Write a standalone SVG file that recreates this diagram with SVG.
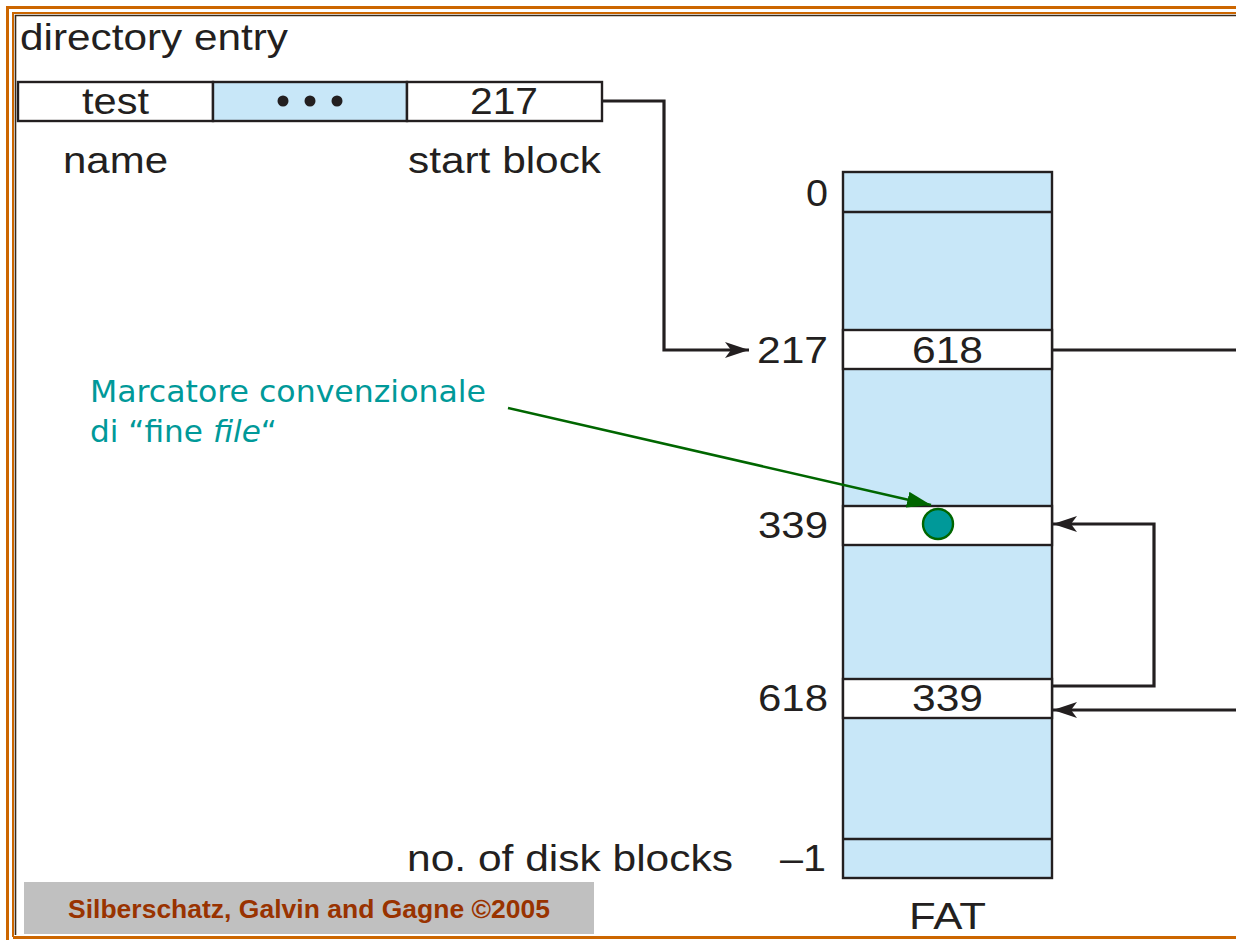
<svg xmlns="http://www.w3.org/2000/svg" width="1236" height="940" viewBox="0 0 1236 940">
  <defs>
    <style>
      .lbl { font-family: "Liberation Sans", Arial, sans-serif; font-size: 36px; fill: #231f20; }
      .box { stroke: #231f20; stroke-width: 2.4; }
      .blue { fill: #c8e7f8; }
      .white { fill: #ffffff; }
      .wire { fill: none; stroke: #231f20; stroke-width: 3.2; }
      .note { font-family: "DejaVu Sans", Verdana, sans-serif; font-size: 30px; fill: #009999; }
    </style>
    <marker id="arrowBlack" viewBox="0 0 24 16" refX="24" refY="8" markerWidth="24" markerHeight="16" markerUnits="userSpaceOnUse" orient="auto">
      <path d="M0,0 L24,8 L0,16 L6,8 Z" fill="#231f20"/>
    </marker>
    <marker id="arrowGreen" viewBox="0 0 24 16" refX="24" refY="8" markerWidth="24" markerHeight="16" markerUnits="userSpaceOnUse" orient="auto">
      <path d="M0,0 L24,8 L0,16 Z" fill="#006600"/>
    </marker>
  </defs>

  <rect width="1236" height="940" fill="#ffffff"/>

  <!-- slide frame -->
  <g id="frame">
    <path d="M7.5,940 V7.5 H1236" fill="none" stroke="#cc6600" stroke-width="3"/>
    <path d="M13,937 V13 H1236" fill="none" stroke="#cc6600" stroke-width="2"/>
    <path d="M13,937.5 H1236" fill="none" stroke="#cc6600" stroke-width="3"/>
    <path d="M15.5,935 V15.5 H1236" fill="none" stroke="#3b2a1a" stroke-width="1.6"/>
  </g>

  <!-- directory entry record -->
  <g id="directory-entry">
    <text class="lbl" x="20" y="50" textLength="268" lengthAdjust="spacingAndGlyphs">directory entry</text>
    <rect class="box white" x="18" y="82" width="195" height="39"/>
    <rect class="box blue" x="213" y="82" width="194" height="39"/>
    <rect class="box white" x="407" y="82" width="195" height="39"/>
    <text class="lbl" x="82" y="114" textLength="67" lengthAdjust="spacingAndGlyphs">test</text>
    <circle cx="283" cy="101" r="5.5" fill="#231f20"/>
    <circle cx="310" cy="101" r="5.5" fill="#231f20"/>
    <circle cx="337" cy="101" r="5.5" fill="#231f20"/>
    <text class="lbl" x="470" y="114" textLength="68" lengthAdjust="spacingAndGlyphs">217</text>
    <text class="lbl" x="63" y="173" textLength="105" lengthAdjust="spacingAndGlyphs">name</text>
    <text class="lbl" x="408" y="173" textLength="193" lengthAdjust="spacingAndGlyphs">start block</text>
  </g>

  <!-- file allocation table -->
  <g id="fat">
    <rect class="box blue" x="843" y="172" width="209" height="706"/>
    <line class="box" x1="843" y1="212" x2="1052" y2="212"/>
    <rect class="box white" x="843" y="330" width="209" height="39"/>
    <rect class="box white" x="843" y="506" width="209" height="39"/>
    <rect class="box white" x="843" y="679" width="209" height="39"/>
    <line class="box" x1="843" y1="839" x2="1052" y2="839"/>
    <text class="lbl" x="912" y="363" textLength="71" lengthAdjust="spacingAndGlyphs">618</text>
    <text class="lbl" x="912" y="711" textLength="71" lengthAdjust="spacingAndGlyphs">339</text>
    <text class="lbl" x="806" y="206" textLength="22" lengthAdjust="spacingAndGlyphs">0</text>
    <text class="lbl" x="757" y="363" textLength="71" lengthAdjust="spacingAndGlyphs">217</text>
    <text class="lbl" x="758" y="538" textLength="70" lengthAdjust="spacingAndGlyphs">339</text>
    <text class="lbl" x="758" y="711" textLength="70" lengthAdjust="spacingAndGlyphs">618</text>
    <text class="lbl" x="407" y="871" textLength="326" lengthAdjust="spacingAndGlyphs">no. of disk blocks</text>
    <text class="lbl" x="780" y="871" textLength="46" lengthAdjust="spacingAndGlyphs">–1</text>
    <text class="lbl" x="909" y="929" textLength="77" lengthAdjust="spacingAndGlyphs">FAT</text>
  </g>

  <!-- end-of-file marker -->
  <g id="eof-marker">
    <circle cx="938" cy="524" r="15" fill="#009999" stroke="#006600" stroke-width="2.4"/>
  </g>

  <!-- annotation -->
  <g id="eof-note">
    <text class="note" x="90" y="402" textLength="396" lengthAdjust="spacingAndGlyphs">Marcatore convenzionale</text>
    <text class="note" x="90" y="442" textLength="187" lengthAdjust="spacingAndGlyphs">di “fine <tspan font-style="italic">file</tspan>“</text>
  </g>

  <!-- connectors -->
  <g id="connectors">
    <path class="wire" d="M602,101 H664 V350 H749" marker-end="url(#arrowBlack)"/>
    <path class="wire" d="M1052,350 H1236"/>
    <path class="wire" d="M1052,686 H1154 V524 H1053" marker-end="url(#arrowBlack)"/>
    <path class="wire" d="M1236,710 H1053" marker-end="url(#arrowBlack)"/>
    <path d="M508,408 L931,505" fill="none" stroke="#006600" stroke-width="2.6" marker-end="url(#arrowGreen)"/>
  </g>

  <!-- credit -->
  <g id="credit">
    <rect x="24" y="882" width="570" height="52" fill="#c0c0c0"/>
    <text x="68" y="918" font-family="'Liberation Sans', Arial, sans-serif" font-size="25" font-weight="bold" fill="#993300" textLength="482" lengthAdjust="spacingAndGlyphs">Silberschatz, Galvin and Gagne ©2005</text>
  </g>
</svg>
